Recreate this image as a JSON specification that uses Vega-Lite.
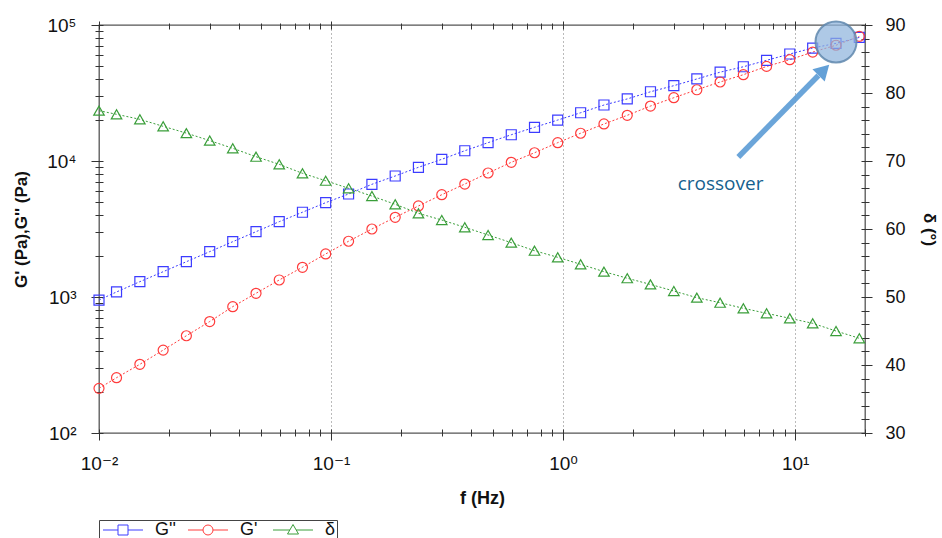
{
  "$schema": "https://vega.github.io/schema/vega-lite/v6.json",
  "width": 766,
  "height": 408,
  "autosize": {"type": "none"},
  "padding": {"left": 99, "top": 25, "right": 77, "bottom": 105},
  "background": "white",
  "config": {
    "view": {"stroke": "#555555", "strokeWidth": 1.3},
    "axis": {"labelFont": "Liberation Sans, DejaVu Sans", "titleFont": "Liberation Sans", "labelColor": "#111111", "titleColor": "#111111"}
  },
  "datasets": {
    "g": [
      {"f": 0.01, "series": "G''", "G": 950},
      {"f": 0.0119, "series": "G''", "G": 1089},
      {"f": 0.015, "series": "G''", "G": 1296},
      {"f": 0.0189, "series": "G''", "G": 1535},
      {"f": 0.0238, "series": "G''", "G": 1818},
      {"f": 0.03, "series": "G''", "G": 2155},
      {"f": 0.0377, "series": "G''", "G": 2551},
      {"f": 0.0475, "series": "G''", "G": 3022},
      {"f": 0.0598, "series": "G''", "G": 3580},
      {"f": 0.0753, "series": "G''", "G": 4200},
      {"f": 0.0948, "series": "G''", "G": 4940},
      {"f": 0.119, "series": "G''", "G": 5720},
      {"f": 0.15, "series": "G''", "G": 6740},
      {"f": 0.189, "series": "G''", "G": 7760},
      {"f": 0.238, "series": "G''", "G": 8990},
      {"f": 0.3, "series": "G''", "G": 10290},
      {"f": 0.377, "series": "G''", "G": 11900},
      {"f": 0.475, "series": "G''", "G": 13640},
      {"f": 0.598, "series": "G''", "G": 15600},
      {"f": 0.753, "series": "G''", "G": 17690},
      {"f": 0.948, "series": "G''", "G": 20000},
      {"f": 1.19, "series": "G''", "G": 22640},
      {"f": 1.5, "series": "G''", "G": 25800},
      {"f": 1.89, "series": "G''", "G": 28600},
      {"f": 2.38, "series": "G''", "G": 32300},
      {"f": 3.0, "series": "G''", "G": 35800},
      {"f": 3.77, "series": "G''", "G": 40100},
      {"f": 4.75, "series": "G''", "G": 45000},
      {"f": 5.98, "series": "G''", "G": 49300},
      {"f": 7.53, "series": "G''", "G": 55000},
      {"f": 9.48, "series": "G''", "G": 61200},
      {"f": 11.9, "series": "G''", "G": 67700},
      {"f": 15.0, "series": "G''", "G": 73300},
      {"f": 18.9, "series": "G''", "G": 81000},
      {"f": 0.01, "series": "G'", "G": 213},
      {"f": 0.0119, "series": "G'", "G": 255},
      {"f": 0.015, "series": "G'", "G": 320},
      {"f": 0.0189, "series": "G'", "G": 407},
      {"f": 0.0238, "series": "G'", "G": 519},
      {"f": 0.03, "series": "G'", "G": 660},
      {"f": 0.0377, "series": "G'", "G": 849},
      {"f": 0.0475, "series": "G'", "G": 1065},
      {"f": 0.0598, "series": "G'", "G": 1334},
      {"f": 0.0753, "series": "G'", "G": 1654},
      {"f": 0.0948, "series": "G'", "G": 2072},
      {"f": 0.119, "series": "G'", "G": 2570},
      {"f": 0.15, "series": "G'", "G": 3162},
      {"f": 0.189, "series": "G'", "G": 3855},
      {"f": 0.238, "series": "G'", "G": 4670},
      {"f": 0.3, "series": "G'", "G": 5650},
      {"f": 0.377, "series": "G'", "G": 6770},
      {"f": 0.475, "series": "G'", "G": 8160},
      {"f": 0.598, "series": "G'", "G": 9780},
      {"f": 0.753, "series": "G'", "G": 11500},
      {"f": 0.948, "series": "G'", "G": 13640},
      {"f": 1.19, "series": "G'", "G": 16000},
      {"f": 1.5, "series": "G'", "G": 18720},
      {"f": 1.89, "series": "G'", "G": 21670},
      {"f": 2.38, "series": "G'", "G": 25360},
      {"f": 3.0, "series": "G'", "G": 29200},
      {"f": 3.77, "series": "G'", "G": 33400},
      {"f": 4.75, "series": "G'", "G": 38100},
      {"f": 5.98, "series": "G'", "G": 43100},
      {"f": 7.53, "series": "G'", "G": 49600},
      {"f": 9.48, "series": "G'", "G": 55600},
      {"f": 11.9, "series": "G'", "G": 63200},
      {"f": 15.0, "series": "G'", "G": 71000},
      {"f": 18.9, "series": "G'", "G": 82500}
    ],
    "d": [
      {"f": 0.01, "series": "δ", "d": 77.4},
      {"f": 0.0119, "series": "δ", "d": 76.87},
      {"f": 0.015, "series": "δ", "d": 76.13},
      {"f": 0.0189, "series": "δ", "d": 75.1},
      {"f": 0.0238, "series": "δ", "d": 74.1},
      {"f": 0.03, "series": "δ", "d": 73.0},
      {"f": 0.0377, "series": "δ", "d": 71.87},
      {"f": 0.0475, "series": "δ", "d": 70.63},
      {"f": 0.0598, "series": "δ", "d": 69.51},
      {"f": 0.0753, "series": "δ", "d": 68.19},
      {"f": 0.0948, "series": "δ", "d": 67.1},
      {"f": 0.119, "series": "δ", "d": 65.99},
      {"f": 0.15, "series": "δ", "d": 64.85},
      {"f": 0.189, "series": "δ", "d": 63.63},
      {"f": 0.238, "series": "δ", "d": 62.31},
      {"f": 0.3, "series": "δ", "d": 61.32},
      {"f": 0.377, "series": "δ", "d": 60.25},
      {"f": 0.475, "series": "δ", "d": 59.12},
      {"f": 0.598, "series": "δ", "d": 57.99},
      {"f": 0.753, "series": "δ", "d": 56.81},
      {"f": 0.948, "series": "δ", "d": 55.84},
      {"f": 1.19, "series": "δ", "d": 54.81},
      {"f": 1.5, "series": "δ", "d": 53.73},
      {"f": 1.89, "series": "δ", "d": 52.76},
      {"f": 2.38, "series": "δ", "d": 51.85},
      {"f": 3.0, "series": "δ", "d": 50.88},
      {"f": 3.77, "series": "δ", "d": 49.9},
      {"f": 4.75, "series": "δ", "d": 49.16},
      {"f": 5.98, "series": "δ", "d": 48.34},
      {"f": 7.53, "series": "δ", "d": 47.6},
      {"f": 9.48, "series": "δ", "d": 46.87},
      {"f": 11.9, "series": "δ", "d": 46.13},
      {"f": 15.0, "series": "δ", "d": 45.0},
      {"f": 18.9, "series": "δ", "d": 43.93}
    ]
  },
  "layer": [
    {
      "encoding": {
        "x": {
          "field": "f", "type": "quantitative",
          "scale": {"type": "log", "domain": [0.01, 20], "nice": false},
          "axis": {
            "orient": "bottom",
            "values": [0.01,0.02,0.03,0.04,0.05,0.06,0.07,0.08,0.09,0.1,0.2,0.3,0.4,0.5,0.6,0.7,0.8,0.9,1,2,3,4,5,6,7,8,9,10,20],
            "labelExpr": "datum.value==0.01?'10⁻²':datum.value==0.1?'10⁻¹':datum.value==1?'10⁰':datum.value==10?'10¹':''",
            "labelOverlap": false, "labelFlush": false,
            "labelFontSize": 19, "labelPadding": 14,
            "domain": false, "offset": -4,
            "tickColor": "#333333", "tickWidth": 1,
            "tickSize": {"condition": {"test": "datum.value==0.01||datum.value==0.1||datum.value==1||datum.value==10", "value": 11}, "value": 7},
            "grid": true, "gridColor": "#777777", "gridDash": [1, 3], "gridWidth": 1,
            "gridOpacity": {"condition": {"test": "datum.value==0.1||datum.value==1||datum.value==10", "value": 1}, "value": 0},
            "title": "f (Hz)", "titleFontSize": 18, "titleFontWeight": "bold", "titlePadding": 16
          }
        },
        "y": {
          "field": "G", "type": "quantitative",
          "scale": {"type": "log", "domain": [100, 100000], "nice": false},
          "axis": {
            "orient": "left",
            "values": [100,200,300,400,500,600,700,800,900,1000,2000,3000,4000,5000,6000,7000,8000,9000,10000,20000,30000,40000,50000,60000,70000,80000,90000,100000],
            "labelExpr": "datum.value==100?'10²':datum.value==1000?'10³':datum.value==10000?'10⁴':datum.value==100000?'10⁵':''",
            "labelOverlap": false, "labelFlush": false,
            "labelFontSize": 19, "labelPadding": 15,
            "domain": false, "offset": -4, "grid": false,
            "tickColor": "#333333", "tickWidth": 1,
            "tickSize": {"condition": {"test": "datum.value==100||datum.value==1000||datum.value==10000||datum.value==100000", "value": 12}, "value": 8},
            "title": "G' (Pa),G'' (Pa)", "titleFontSize": 17, "titleFontWeight": "bold", "titlePadding": 16
          }
        }
      },
      "layer": [
        {
          "data": {"name": "g"},
          "mark": {"type": "line", "strokeWidth": 1, "strokeDash": [2, 2]},
          "encoding": {
            "color": {"field": "series", "type": "nominal", "scale": {"domain": ["G''", "G'", "δ"], "range": ["#3c3cff", "#ff3c3c", "#3a9e3a"]}}
          }
        },
        {
          "data": {"name": "g"},
          "transform": [{"filter": {"field": "series", "equal": "G''"}}],
          "mark": {"type": "point", "shape": "square", "filled": false, "size": 100, "strokeWidth": 1.2, "opacity": 1},
          "encoding": {
            "color": {"field": "series", "type": "nominal", "scale": {"domain": ["G''", "G'", "δ"], "range": ["#3c3cff", "#ff3c3c", "#3a9e3a"]}}
          }
        },
        {
          "data": {"name": "g"},
          "transform": [{"filter": {"field": "series", "equal": "G'"}}],
          "mark": {"type": "point", "shape": "circle", "filled": false, "size": 100, "strokeWidth": 1.2, "opacity": 1},
          "encoding": {
            "color": {"field": "series", "type": "nominal", "scale": {"domain": ["G''", "G'", "δ"], "range": ["#3c3cff", "#ff3c3c", "#3a9e3a"]}}
          }
        },
        {
          "data": {"values": []},
          "mark": {"type": "point", "filled": false, "size": 100, "strokeWidth": 1, "opacity": 1},
          "encoding": {
            "color": {"field": "series", "type": "nominal", "scale": {"domain": ["G''", "G'", "δ"], "range": ["#3c3cff", "#ff3c3c", "#3a9e3a"]}},
            "shape": {
              "field": "series", "type": "nominal",
              "scale": {"domain": ["G''", "G'", "δ"], "range": [
                "M-1.2,0H1.8M3.8,0H6.8M1.8,-1H3.8V1H1.8Z",
                "M-1.2,0H1.8M3.8,0H6.8M1.8,0A1,1 0 1,0 3.8,0A1,1 0 1,0 1.8,0",
                "M-1.2,0H2.16M3.44,0H6.8M2.8,-1.1L3.9,0.8H1.7Z"
              ]},
              "legend": {
                "orient": "none", "legendX": 0, "legendY": 495,
                "direction": "horizontal", "columns": 3, "gridAlign": "all",
                "title": null, "padding": 1, "strokeColor": "#444444", "fillColor": "white",
                "symbolSize": 100, "symbolStrokeWidth": 1,
                "labelOffset": 37, "columnPadding": 9,
                "labelFont": "Liberation Sans", "labelFontSize": 18, "labelColor": "#111111"
              }
            }
          }
        },
        {
          "data": {"values": [{"f": 15.0, "G": 75000}]},
          "mark": {"type": "point", "shape": "circle", "filled": true, "size": 1680, "fill": "#8fb4dc", "fillOpacity": 0.72, "stroke": "#5f87ad", "strokeWidth": 2, "strokeOpacity": 0.85},
          "encoding": {}
        },
        {
          "data": {"values": [{"f": 5.69, "G": 10700, "f2": 12.6, "G2": 42500}]},
          "mark": {"type": "rule", "color": "#5b9bd5", "strokeWidth": 5.5, "opacity": 0.9, "strokeCap": "butt"},
          "encoding": {"x2": {"field": "f2"}, "y2": {"field": "G2"}}
        },
        {
          "data": {"values": [{"f": 13.3, "G": 46650}]},
          "mark": {"type": "point", "shape": "triangle-up", "angle": 45, "filled": true, "size": 300, "color": "#5b9bd5", "opacity": 0.95},
          "encoding": {}
        },
        {
          "data": {"values": [{"f": 4.77, "G": 6120, "label": "crossover"}]},
          "mark": {"type": "text", "font": "Open Sans", "fontSize": 19, "color": "#165f8e", "align": "center", "baseline": "alphabetic"},
          "encoding": {"text": {"field": "label"}}
        }
      ]
    },
    {
      "data": {"name": "d"},
      "encoding": {
        "x": {
          "field": "f", "type": "quantitative",
          "scale": {"type": "log", "domain": [0.01, 20], "nice": false},
          "axis": {
            "orient": "top",
            "values": [0.01,0.02,0.03,0.04,0.05,0.06,0.07,0.08,0.09,0.1,0.2,0.3,0.4,0.5,0.6,0.7,0.8,0.9,1,2,3,4,5,6,7,8,9,10,20],
            "labels": false, "title": null, "domain": false, "offset": -4, "grid": false,
            "tickColor": "#333333",
            "tickSize": {"condition": {"test": "datum.value==0.01||datum.value==0.1||datum.value==1||datum.value==10", "value": 8}, "value": 6}
          }
        },
        "y": {
          "field": "d", "type": "quantitative",
          "scale": {"domain": [30, 90], "nice": false, "zero": false},
          "axis": {
            "orient": "right",
            "values": [30,32,34,36,38,40,42,44,46,48,50,52,54,56,58,60,62,64,66,68,70,72,74,76,78,80,82,84,86,88,90],
            "labelExpr": "datum.value % 10 == 0 ? datum.label : ''",
            "labelOverlap": false, "labelFlush": false,
            "labelFontSize": 18, "labelPadding": 13,
            "domain": false, "offset": -4, "grid": false,
            "tickColor": "#333333",
            "tickSize": {"condition": {"test": "datum.value % 10 == 0", "value": 11}, "value": 8},
            "title": "δ (°)", "titleFontSize": 17, "titleFontWeight": "bold", "titlePadding": 14
          }
        }
      },
      "layer": [
        {
          "mark": {"type": "line", "strokeWidth": 1, "strokeDash": [2, 2]},
          "encoding": {
            "color": {"field": "series", "type": "nominal", "scale": {"domain": ["G''", "G'", "δ"], "range": ["#3c3cff", "#ff3c3c", "#3a9e3a"]}}
          }
        },
        {
          "mark": {"type": "point", "shape": "triangle-up", "filled": false, "size": 110, "strokeWidth": 1.2, "opacity": 1},
          "encoding": {
            "color": {"field": "series", "type": "nominal", "scale": {"domain": ["G''", "G'", "δ"], "range": ["#3c3cff", "#ff3c3c", "#3a9e3a"]}}
          }
        }
      ]
    }
  ],
  "resolve": {"scale": {"y": "independent"}, "axis": {"x": "independent"}}
}
